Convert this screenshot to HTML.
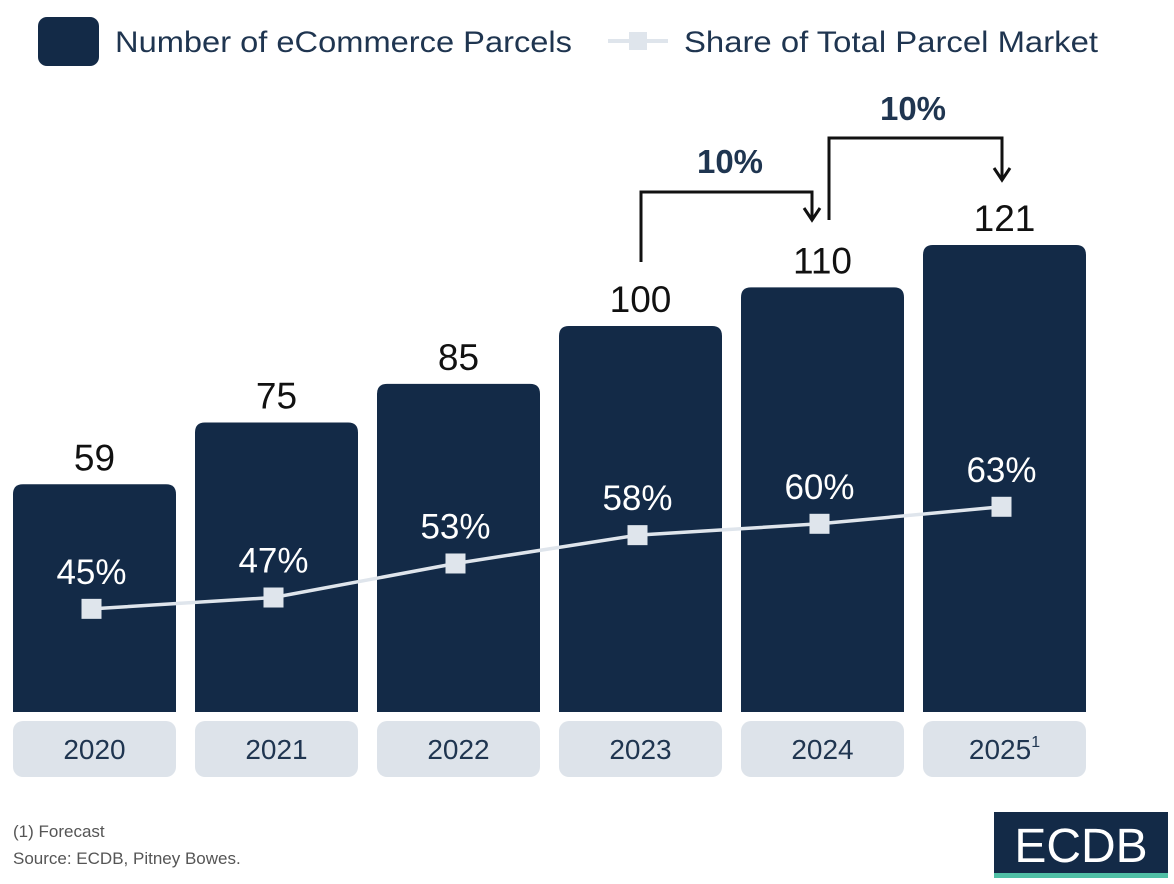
<!DOCTYPE html>
<html><head><meta charset="utf-8"><style>
html,body{margin:0;padding:0;background:#fff;}
svg{display:block;font-family:"Liberation Sans",sans-serif;}
</style></head><body>
<svg id="chart" width="1174" height="884" viewBox="0 0 1174 884">
<g>
<rect x="38" y="17" width="61" height="49" rx="9" fill="#132a47"/>
<text x="115" y="52" font-size="30" fill="#1f3550" textLength="457" lengthAdjust="spacingAndGlyphs">Number of eCommerce Parcels</text>
<line x1="608" y1="41" x2="668" y2="41" stroke="#dfe5ec" stroke-width="4"/>
<rect x="629" y="32" width="18" height="18" fill="#dfe5ec"/>
<text x="684" y="52" font-size="30" fill="#1f3550" textLength="414" lengthAdjust="spacingAndGlyphs">Share of Total Parcel Market</text>
</g>
<g id="bars"></g>
<g id="line"></g>
<g fill="none" stroke="#111" stroke-width="3">
<path d="M641 262 V192 H812 V218"/>
<path d="M804 208 L812 220 L820 208"/>
<path d="M829 220 V138 H1002 V178"/>
<path d="M994 168 L1002 180 L1010 168"/>
</g>
<text x="730" y="173" font-size="33" font-weight="bold" fill="#1f3550" text-anchor="middle">10%</text>
<text x="913" y="120" font-size="33" font-weight="bold" fill="#1f3550" text-anchor="middle">10%</text>
<text x="13" y="837" font-size="17" fill="#555">(1) Forecast</text>
<text x="13" y="864" font-size="17" fill="#555">Source: ECDB, Pitney Bowes.</text>
<g>
<rect x="994" y="812" width="174" height="66" fill="#132a47"/>
<rect x="994" y="873" width="174" height="5" fill="#4fbfa5"/>
<text x="1081" y="862" font-size="48" fill="#fff" text-anchor="middle">ECDB</text>
</g>
</svg>
<script>
const years = ["2020","2021","2022","2023","2024","2025"];
const parcels = [59,75,85,100,110,121];
const shares = [45,47,53,58,60,63];
const ns = "http://www.w3.org/2000/svg";
const x0 = 13, pitch = 182, bw = 163, base = 712;
function xBar(i){return x0 + i*pitch;}
function xMid(i){return xBar(i) + bw/2;}
function yBar(v){return base - v*3.86;}
function yShare(p){return 864 - p*5.67;}
function mk(tag, attrs, parent){const e=document.createElementNS(ns,tag);for(const k in attrs)e.setAttribute(k,attrs[k]);parent.appendChild(e);return e;}
const gb=document.getElementById('bars'), gl=document.getElementById('line');
years.forEach((y,i)=>{
  const top=yBar(parcels[i]);
  const b=mk('path',{d:`M${xBar(i)} ${base} V${top+10} Q${xBar(i)} ${top} ${xBar(i)+10} ${top} H${xBar(i)+bw-10} Q${xBar(i)+bw} ${top} ${xBar(i)+bw} ${top+10} V${base} Z`,fill:'#132a47'},gb);
  
  
  const t=mk('text',{x:xMid(i),y:top-14,'font-size':37,fill:'#111','text-anchor':'middle'},gb);
  t.textContent=parcels[i];
  
  
  const r=mk('rect',{x:xBar(i),y:721,width:bw,height:56,rx:10,fill:'#dde3ea'},gb);
  
  
  const yt=mk('text',{x:xMid(i),y:759,'font-size':28,fill:'#1f3550','text-anchor':'middle'},gb);
  yt.textContent=y;
  if(i===5){const s=mk('tspan',{'font-size':16,dy:-12},yt);s.textContent='1';}
  
  
});
const pts=shares.map((p,i)=>(xMid(i)-3)+','+yShare(p)).join(' ');
const pl=mk('polyline',{points:pts,fill:'none',stroke:'#dfe5ec','stroke-width':3.5},gl);


shares.forEach((p,i)=>{
  const m=mk('rect',{x:xMid(i)-13,y:yShare(p)-10,width:20,height:20,fill:'#dfe5ec'},gl);
  
  
  const t=mk('text',{x:xMid(i)-3,y:yShare(p)-25,'font-size':35,fill:'#fff','text-anchor':'middle'},gl);
  t.textContent=p+'%';
  
  
});
</script>
</body></html>
